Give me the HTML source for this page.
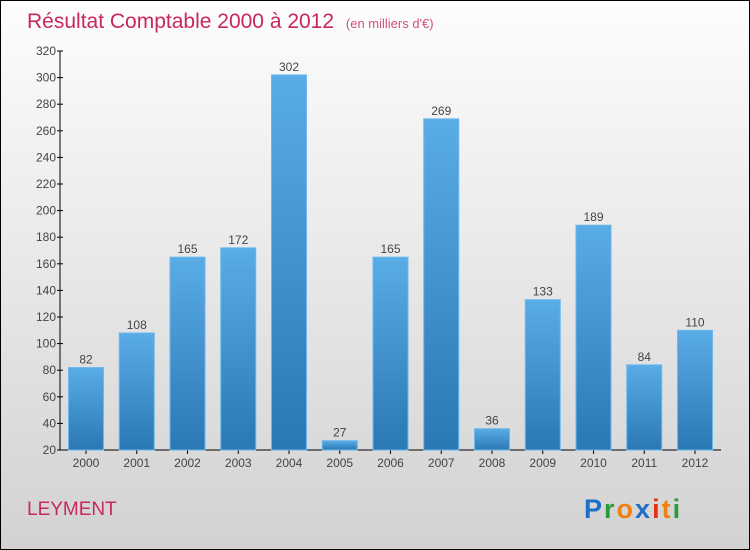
<!DOCTYPE html>
<html><head><meta charset="utf-8"><style>
body{margin:0}
#c{position:relative;width:748px;height:548px;border:1px solid #000;background:linear-gradient(#fdfdfd,#d2d2d2);font-family:"Liberation Sans",sans-serif;overflow:hidden}
</style></head><body>
<div id="c">
<svg id="s" width="748" height="548" style="position:absolute;left:0;top:0">
<defs><linearGradient id="g" x1="0" y1="0" x2="0" y2="1"><stop offset="0" stop-color="#5aace6"/><stop offset="1" stop-color="#2a78b4"/></linearGradient></defs>
<text x="26" y="27" font-size="21" fill="#c8285a">Résultat Comptable 2000 à 2012 <tspan font-size="13" dx="6" fill="#d05080">(en milliers d'€)</tspan></text>
<text x="26" y="514" font-size="19" fill="#c8285a">LEYMENT</text>
<g font-size="27" font-weight="bold"><text x="583" y="517" fill="#1e6fc8" letter-spacing="2">P<tspan fill="#2a9a3a">r</tspan><tspan fill="#f08010">o</tspan><tspan fill="#1e6fc8">x</tspan><tspan fill="#e83010">i</tspan><tspan fill="#f08010">t</tspan><tspan fill="#2a9a3a">i</tspan></text></g>
<g id="ax"></g><g id="bars"></g>
</svg></div>
<script>
const years=["2000","2001","2002","2003","2004","2005","2006","2007","2008","2009","2010","2011","2012"];
const values=[82,108,165,172,302,27,165,269,36,133,189,84,110];
const ticks=[20,40,60,80,100,120,140,160,180,200,220,240,260,280,300,320];
const NS="http://www.w3.org/2000/svg";
function y(v){return 449-(v-20)*(399/300);}
function x(i){return 85+i*50.75;}
function mk(t,a,p,txt){const e=document.createElementNS(NS,t);for(const k in a)e.setAttribute(k,a[k]);if(txt!==undefined)e.textContent=txt;p.appendChild(e);return e;}
const ax=document.getElementById('ax'),bg=document.getElementById('bars');
let l=mk('line',{x1:59,y1:y(320),x2:59,y2:449,stroke:'#000'},ax);


l=mk('line',{x1:59,y1:449,x2:720,y2:449,stroke:'#000'},ax);


ticks.forEach(t=>{
 const tk=mk('line',{x1:56,x2:62,y1:y(t),y2:y(t),stroke:'#000'},ax);
 
 
 const tl=mk('text',{x:55,y:y(t)+4,'text-anchor':'end','font-size':12,fill:'#444'},ax,t);
 
 
});
years.forEach((yr,i)=>{
 const cx=x(i),top=y(values[i]);
 const r=mk('rect',{x:cx-17.5,y:top,width:35,height:449-top,fill:'url(#g)',stroke:'#6ab8ee','stroke-width':1},bg);
 
 
 const v=mk('text',{x:cx,y:top-4,'text-anchor':'middle','font-size':12,fill:'#444'},bg,values[i]);
 
 
 const tk=mk('line',{x1:cx,x2:cx,y1:449,y2:453,stroke:'#000'},ax);
 
 
 const xl=mk('text',{x:cx,y:466,'text-anchor':'middle','font-size':12,fill:'#444'},ax,yr);
 
 
});
</script>
</body></html>
